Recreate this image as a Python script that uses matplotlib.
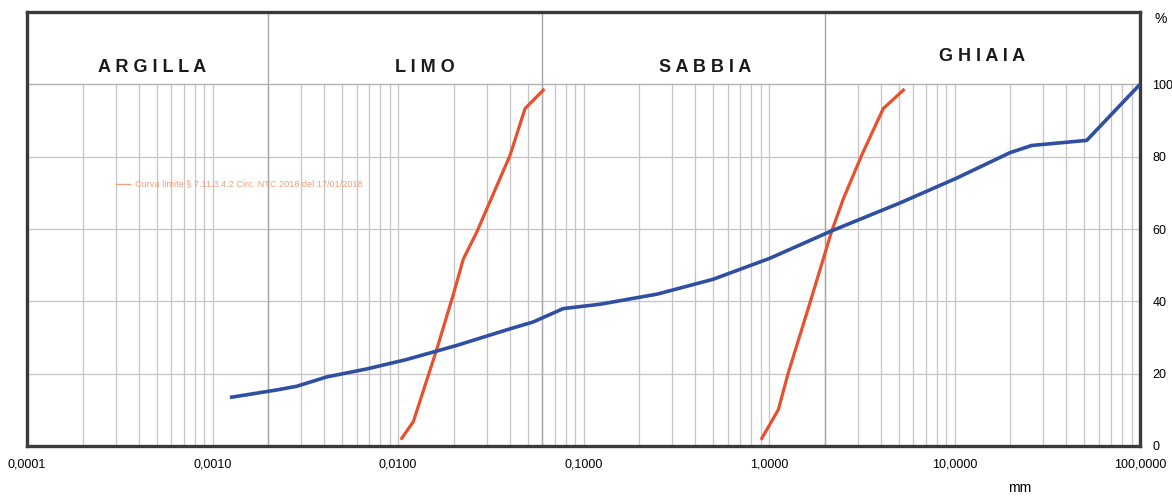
import numpy as np
import matplotlib

matplotlib.use('Agg')

import matplotlib.pyplot as plt
from matplotlib.ticker import FixedLocator, NullLocator

plt.rcParams['font.family'] = ['Liberation Sans', 'DejaVu Sans']

# sample grading curve (mm, % passing)
sample_d = [0.00127, 0.00222, 0.00284, 0.00413, 0.00678, 0.0111, 0.0207, 0.0402,
            0.0536, 0.0778, 0.123, 0.25, 0.5, 1.01, 2.18, 5.08, 10.3, 19.9, 26.1, 51.6, 100.0]
sample_p = [13.5, 15.5, 16.5, 19.1, 21.3, 23.9, 27.8, 32.4,
            34.3, 38.0, 39.2, 42.0, 46.1, 51.9, 59.5, 67.2, 74.1, 81.1, 83.1, 84.5, 100.0]

# limit curves
fine_d = [0.01047, 0.0121, 0.01617, 0.01987, 0.0225, 0.02656, 0.0402, 0.0484, 0.0607]
fine_p = [2.1, 6.75, 26.7, 41.9, 51.7, 59.1, 80.4, 93.3, 98.4]
coarse_d = [0.914, 1.122, 1.27, 1.663, 2.18, 2.515, 3.16, 4.13, 5.30]
coarse_p = [2.1, 10.0, 20.2, 39.6, 59.5, 68.3, 80.4, 93.3, 98.4]

class_limits = [0.002, 0.06, 2.0]
class_names = ['A R G I L L A', 'L I M O', 'S A B B I A', 'G H I A I A']
class_label_x = [0.00047, 0.014, 0.45, 14.0]
class_label_y = [104.7, 104.7, 104.7, 107.8]

decades = [0.0001, 0.001, 0.01, 0.1, 1, 10, 100]
decade_labels = ['0,0001', '0,0010', '0,0100', '0,1000', '1,0000', '10,0000', '100,0000']
percent_ticks = [0, 20, 40, 60, 80, 100]

legend_text = 'Curva limite \u00a7 7.11.3.4.2 Circ. NTC 2018 del 17/01/2018'

fig = plt.figure(figsize=(11.72, 4.97), dpi=100)
ax = fig.add_axes([27 / 1172, 51 / 497, 1113 / 1172, 434 / 497])
ax.set_xscale('log')
ax.set_xlim(0.0001, 100)
ax.set_ylim(0, 120)

# log grid only inside the 0-100 band
grid_x = [m * d for d in decades[:-1] for m in range(1, 10)][1:]
ax.vlines(grid_x, 0, 100, color='#c4c4c4', lw=0.9, zorder=1)
ax.hlines(percent_ticks[1:-1], 0.0001, 100, color='#c4c4c4', lw=0.9, zorder=1)
ax.hlines(100, 0.0001, 100, color='#b0b0b0', lw=1.0, zorder=1)
ax.vlines(class_limits, 0, 120, color='#a8a8a8', lw=1.0, zorder=1)

for name, x, y in zip(class_names, class_label_x, class_label_y):
    ax.text(x, y, name, ha='center', va='center', fontsize=13,
            fontweight='bold', color='#1a1a1a')

ax.plot(fine_d, fine_p, color='#e8502e', lw=2.3, zorder=3)
ax.plot(coarse_d, coarse_p, color='#e8502e', lw=2.3, zorder=3)
ax.plot(sample_d, sample_p, color='#2f4fa3', lw=2.6, zorder=4)

# tiny faded legend entry
ax.plot([0.0003, 0.00036], [72.5, 72.5], color='#f0a07c', lw=1.0, zorder=3)
ax.text(0.00038, 72.5, legend_text, fontsize=6.6, color='#f0a07c', va='center')

ax.xaxis.set_major_locator(FixedLocator(decades))
ax.xaxis.set_minor_locator(NullLocator())
ax.set_xticklabels(decade_labels)
ax.tick_params(axis='x', length=0, pad=9, labelsize=9)

ax.yaxis.tick_right()
ax.set_yticks(percent_ticks)
ax.tick_params(axis='y', length=0, pad=9, labelsize=9)
ax.text(1.013, 0.985, '%', transform=ax.transAxes, fontsize=10, va='center')
fig.text(1020 / 1172, 1 - 488 / 497, 'mm', fontsize=10, ha='center', va='center')

for sp in ax.spines.values():
    sp.set_linewidth(2.4)
    sp.set_color('#3a3a3a')

fig.savefig('out.png', dpi=100)
